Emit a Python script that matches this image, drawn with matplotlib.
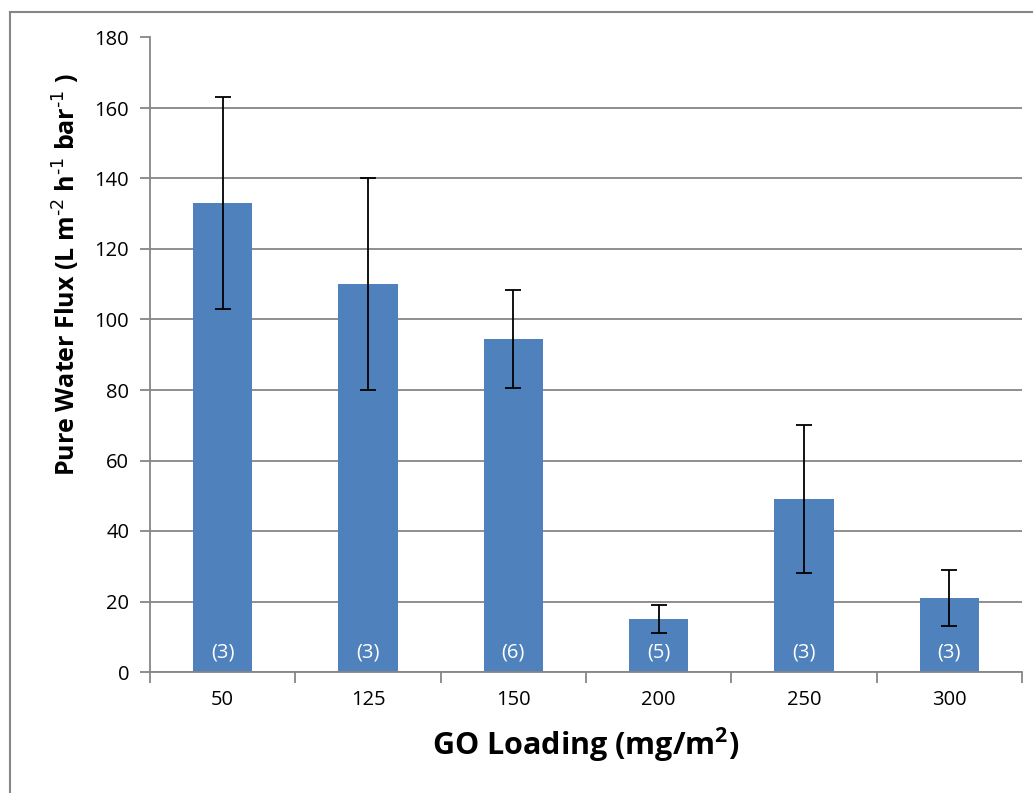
import matplotlib
matplotlib.use("Agg")
import matplotlib.pyplot as plt
import numpy as np

# GO loading categories (mg/m^2)
loadings = ["50", "125", "150", "200", "250", "300"]
# mean pure water flux (L m-2 h-1 bar-1)
flux = [133, 110, 94.5, 15, 49, 21]
# error bar half-widths
flux_err = [30, 30, 14, 4, 21, 8]
# number of samples per loading
n_samples = ["(3)", "(3)", "(6)", "(5)", "(3)", "(3)"]

plt.rcParams["font.family"] = ["Open Sans", "DejaVu Sans"]

bar_color = "#4F81BD"
axis_gray = "#868686"

fig = plt.figure(figsize=(10.33, 7.93), dpi=100)
ax = fig.add_axes([150 / 1033, 1 - 672 / 793, 872 / 1033, 634.5 / 793])

# outer chart border
fig.add_artist(plt.Line2D([9.5 / 1033, 9.5 / 1033], [0, 1 - 12 / 793],
                          transform=fig.transFigure, color=axis_gray, lw=1.5))
fig.add_artist(plt.Line2D([9.5 / 1033, 1], [1 - 12 / 793, 1 - 12 / 793],
                          transform=fig.transFigure, color=axis_gray, lw=1.5))

x = np.arange(len(loadings))
ax.bar(x, flux, width=0.41, color=bar_color, zorder=2)
ax.errorbar(x, flux, yerr=flux_err, fmt="none", ecolor="black",
            elinewidth=1.3, capsize=5.5, capthick=1.3, zorder=3)

for xi, label in zip(x, n_samples):
    ax.text(xi, 5.5, label, ha="center", va="center", color="white",
            fontsize=14.5, zorder=4)

ax.set_xlim(-0.5, len(loadings) - 0.5)
ax.set_ylim(0, 180)
ax.set_yticks(np.arange(0, 181, 20))
ax.yaxis.grid(True, color=axis_gray, lw=1.3, zorder=0)
ax.set_axisbelow(True)

ax.set_xticks(x)
ax.set_xticklabels(loadings, fontsize=14.5)
ax.set_xticks(np.arange(-0.5, len(loadings)), minor=True)
ax.tick_params(axis="x", which="major", length=0, pad=13)
ax.tick_params(axis="x", which="minor", length=8, color=axis_gray, width=1.3)
ax.tick_params(axis="y", length=7, color=axis_gray, width=1.3, labelsize=14.5,
               pad=8)

for side in ["top", "right"]:
    ax.spines[side].set_visible(False)
for side in ["left", "bottom"]:
    ax.spines[side].set_color(axis_gray)
    ax.spines[side].set_linewidth(1.3)

ax.set_xlabel("GO Loading (mg/m$^{\\mathregular{2}}$)", fontsize=22,
              fontweight="bold")
ax.xaxis.set_label_coords(0.5, -0.115)
ax.xaxis.label.set_va("center")

ax.set_ylabel("Pure Water Flux (L m$^{\\text{-2}}$ h$^{\\text{-1}}$ "
              "bar$^{\\text{-1}}$ )",
              fontsize=18, fontweight="bold")
ax.yaxis.set_label_coords(-0.096, 0.626)
ax.yaxis.label.set_va("center")

fig.savefig("out.png", dpi=100)
